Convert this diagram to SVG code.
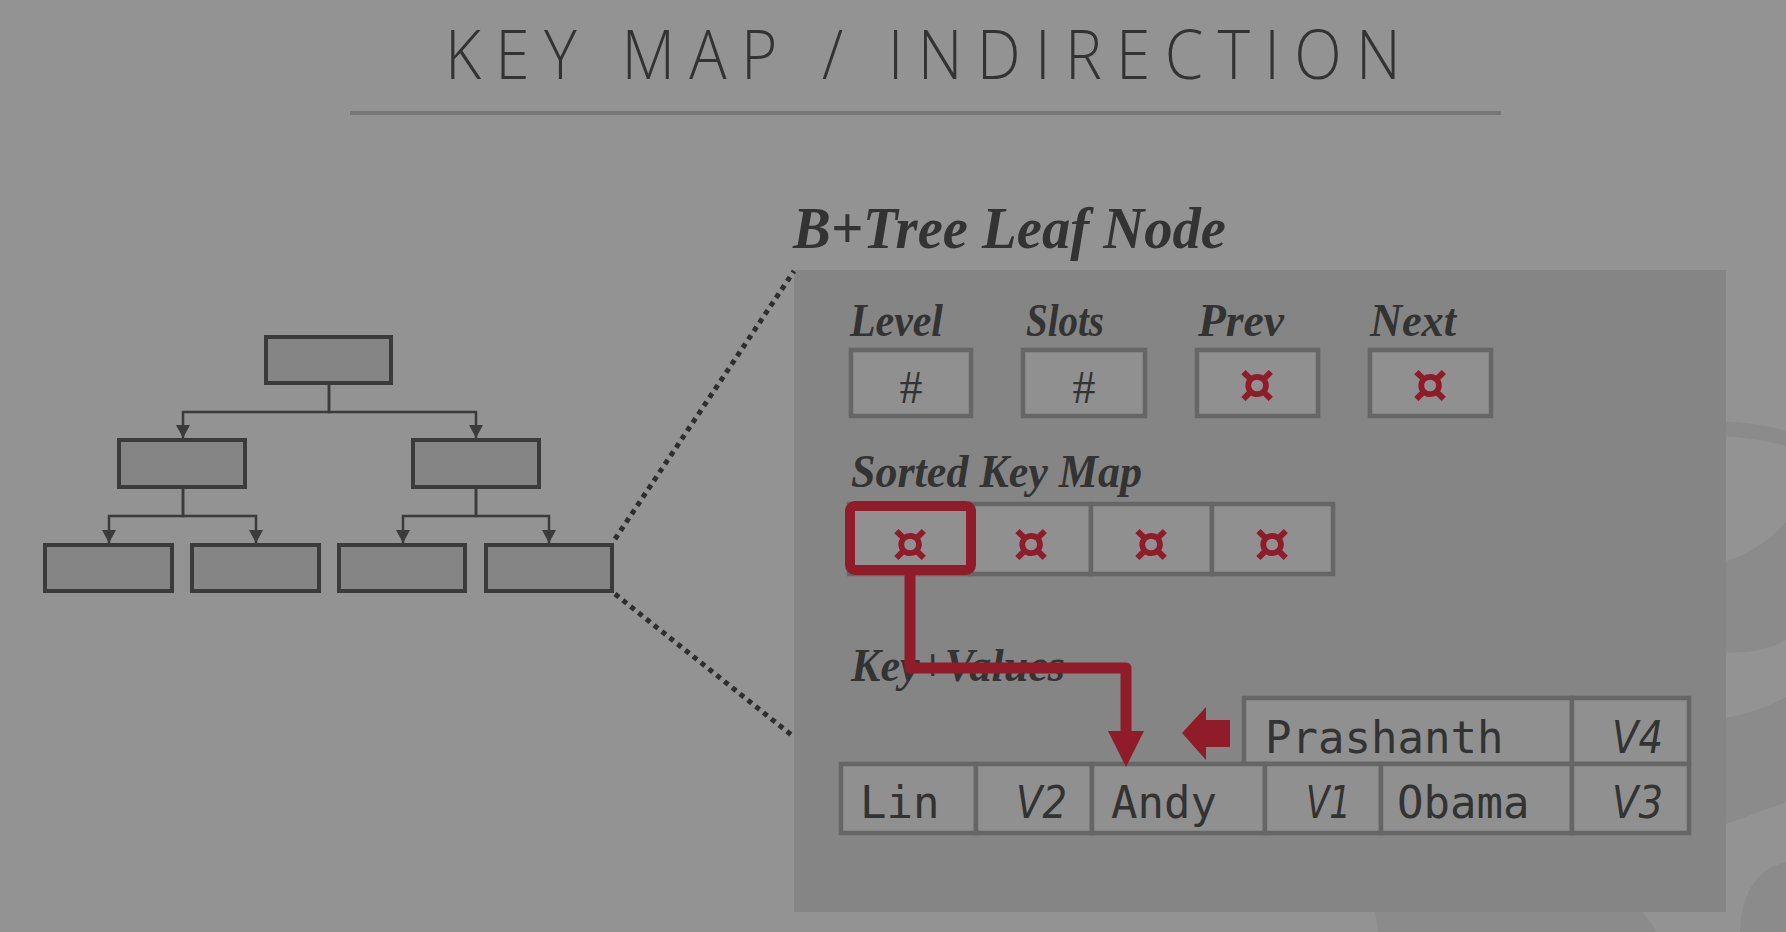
<svg xmlns="http://www.w3.org/2000/svg" width="1786" height="932" viewBox="0 0 1786 932">
<defs>
<style>
.title{font-family:"Open Sans","Liberation Sans",sans-serif;font-weight:300;font-size:69px;fill:#333}
.lbl{font-family:"Liberation Serif",serif;font-weight:bold;font-style:italic;fill:#333}
.hash{font-family:"Liberation Serif",serif;font-size:46px;fill:#333;text-anchor:middle}
.ptr{font-family:"DejaVu Sans",sans-serif;font-weight:bold;font-size:56px;fill:#8f1c28;text-anchor:middle}
.mono{font-family:"DejaVu Sans Mono",monospace;font-size:44px;fill:#333}
.ital{font-family:"DejaVu Sans",sans-serif;font-style:italic;font-size:44px;fill:#333}
.tbox{fill:#858585;stroke:#3b3b3b;stroke-width:4}
.cell{fill:#909090;stroke:#666;stroke-width:4.5}
.tline{fill:none;stroke:#3b3b3b;stroke-width:2.5}
.dots{fill:none;stroke:#2e2e2e;stroke-width:5;stroke-dasharray:5 5}
.deco{fill:#8b8b8b}
</style>
<marker id="ah" markerUnits="userSpaceOnUse" markerWidth="13" markerHeight="14" viewBox="0 0 13 14" refX="13" refY="7" orient="auto">
<path d="M0,0 L13,7 L0,14 Z" fill="#3b3b3b"/>
</marker>
</defs>
<rect width="1786" height="932" fill="#939393"/>
<g id="decor">
<path class="deco" d="M1720 421 Q1760 423 1786 431 L1786 446 Q1760 438 1720 436 Z"/>
<path class="deco" d="M1720 563 Q1760 552 1786 522 L1786 640 Q1760 655 1720 652 Z"/>
<path class="deco" d="M1720 719 Q1760 712 1786 697 L1786 802 Q1760 812 1720 826 Z"/>
<path class="deco" d="M1786 862 Q1742 872 1740 932 L1786 932 Z"/>
<path class="deco" d="M1374 905 L1635 905 Q1650 918 1656 932 L1378 932 Z"/>
</g>
<g id="title">
<g transform="translate(445 79) scale(0.9 1)">
<text class="title" x="0" y="0" textLength="1062" lengthAdjust="spacing">KEY MAP / INDIRECTION</text>
</g>
<rect x="350" y="111" width="1151" height="4" fill="#777"/>
</g>
<g id="tree">
<rect id="root" class="tbox" x="266" y="337" width="125" height="46"/>
<rect id="mid-left" class="tbox" x="119" y="440" width="126" height="47"/>
<rect id="mid-right" class="tbox" x="413" y="440" width="126" height="47"/>
<rect id="leaf1" class="tbox" x="45" y="545" width="127" height="46"/>
<rect id="leaf2" class="tbox" x="192" y="545" width="127" height="46"/>
<rect id="leaf3" class="tbox" x="339" y="545" width="126" height="46"/>
<rect id="leaf4" class="tbox" x="486" y="545" width="126" height="46"/>
</g>
<g id="panel">
<rect x="794" y="270" width="932" height="642" fill="#858585"/>
<text class="lbl" x="793" y="248" font-size="60" textLength="433" lengthAdjust="spacingAndGlyphs">B+Tree Leaf Node</text>
</g>
<g id="level">
<text class="lbl" x="850" y="336" font-size="46" textLength="93" lengthAdjust="spacingAndGlyphs">Level</text>
<rect class="cell" x="851" y="350" width="120" height="66"/>
<text class="hash" x="911" y="403">#</text>
</g>
<g id="slots">
<text class="lbl" x="1026" y="336" font-size="46" textLength="78" lengthAdjust="spacingAndGlyphs">Slots</text>
<rect class="cell" x="1023" y="350" width="122" height="66"/>
<text class="hash" x="1084" y="403">#</text>
</g>
<g id="prev">
<text class="lbl" x="1198" y="336" font-size="46" textLength="86" lengthAdjust="spacingAndGlyphs">Prev</text>
<rect class="cell" x="1197" y="350" width="121" height="66"/>
<text class="ptr" x="1257" y="403">¤</text>
</g>
<g id="next">
<text class="lbl" x="1370" y="336" font-size="46" textLength="86" lengthAdjust="spacingAndGlyphs">Next</text>
<rect class="cell" x="1370" y="350" width="121" height="66"/>
<text class="ptr" x="1430" y="403">¤</text>
</g>
<g id="sorted-key-map">
<text class="lbl" x="851" y="487" font-size="46" textLength="291" lengthAdjust="spacingAndGlyphs">Sorted Key Map</text>
<rect class="cell" x="849" y="504" width="121" height="70"/>
<rect class="cell" x="970" y="504" width="121" height="70"/>
<rect class="cell" x="1091" y="504" width="121" height="70"/>
<rect class="cell" x="1212" y="504" width="121" height="70"/>
<text class="ptr" x="910" y="562">¤</text>
<text class="ptr" x="1031" y="562">¤</text>
<text class="ptr" x="1151" y="562">¤</text>
<text class="ptr" x="1272" y="562">¤</text>
<rect x="850" y="506" width="121" height="64" rx="5" fill="none" stroke="#8f1c28" stroke-width="10"/>
</g>
<g id="key-values">
<text class="lbl" x="851" y="681" font-size="46" textLength="214" lengthAdjust="spacingAndGlyphs">Key+Values</text>
<rect class="cell" x="1244" y="698" width="328" height="66"/>
<rect class="cell" x="1572" y="698" width="117" height="66"/>
<rect class="cell" x="841" y="764" width="135" height="69"/>
<rect class="cell" x="976" y="764" width="116" height="69"/>
<rect class="cell" x="1092" y="764" width="173" height="69"/>
<rect class="cell" x="1265" y="764" width="116" height="69"/>
<rect class="cell" x="1381" y="764" width="191" height="69"/>
<rect class="cell" x="1572" y="764" width="117" height="69"/>
<text class="mono" x="1265" y="753">Prashanth</text>
<text class="ital" x="1612" y="753" textLength="51" lengthAdjust="spacingAndGlyphs">V4</text>
<text class="mono" x="860" y="818">Lin</text>
<text class="ital" x="1016" y="818" textLength="51" lengthAdjust="spacingAndGlyphs">V2</text>
<text class="mono" x="1111" y="818">Andy</text>
<text class="ital" x="1306" y="818" textLength="45" lengthAdjust="spacingAndGlyphs">V1</text>
<text class="mono" x="1397" y="818">Obama</text>
<text class="ital" x="1612" y="818" textLength="51" lengthAdjust="spacingAndGlyphs">V3</text>
</g>
<g id="connectors">
<path class="tline" d="M329 385 V412 H183 V438" marker-end="url(#ah)"/>
<path class="tline" d="M329 385 V412 H476 V438" marker-end="url(#ah)"/>
<path class="tline" d="M183 489 V516 H109 V543" marker-end="url(#ah)"/>
<path class="tline" d="M183 489 V516 H256 V543" marker-end="url(#ah)"/>
<path class="tline" d="M476 489 V516 H403 V543" marker-end="url(#ah)"/>
<path class="tline" d="M476 489 V516 H549 V543" marker-end="url(#ah)"/>
<path class="dots" d="M615 539 L794 271"/>
<path class="dots" d="M615 594 L794 737"/>
<path d="M910 575 V668 H1126 V733" fill="none" stroke="#8f1c28" stroke-width="11" stroke-linejoin="round"/>
<path d="M1108 731 L1144 731 L1126 767 Z" fill="#8f1c28"/>
<path d="M1182 733 L1206 707 L1206 720 L1230 720 L1230 747 L1206 747 L1206 760 Z" fill="#8f1c28"/>
</g>
</svg>
